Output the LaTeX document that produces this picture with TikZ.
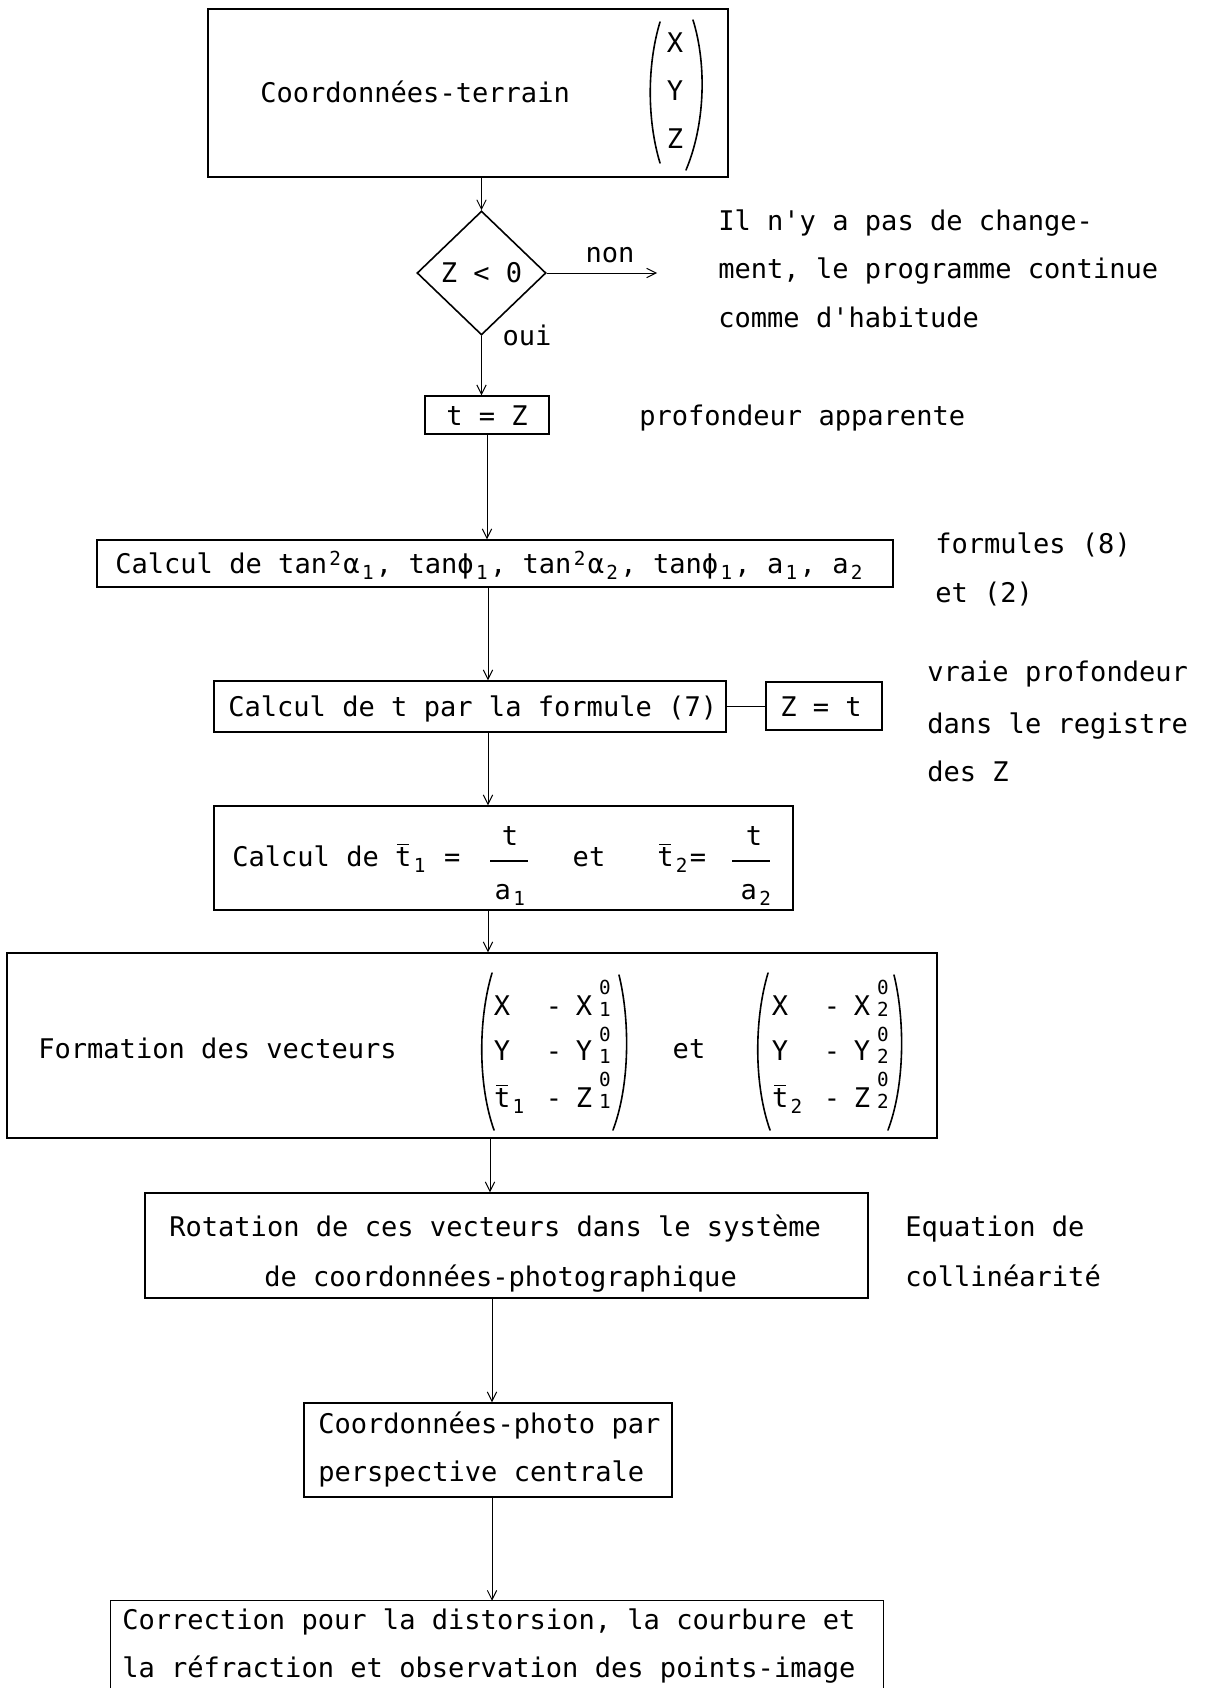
\documentclass[tikz,border=0pt]{standalone}
\usepackage{fontspec}
\newfontfamily\tw{DejaVu Sans Mono}
\usetikzlibrary{arrows.meta,shapes.geometric,fit}
% typewriter sizes: one character cell is 12.22pt wide
\newcommand\bigtw{\tw\fontsize{20.3pt}{36.4pt}\selectfont}
\newcommand\smalltw{\tw\fontsize{14.5pt}{15pt}\selectfont}
\newcommand\lowtxt[1]{\makebox[12.22pt]{\raisebox{-4.5pt}{\smalltw #1}}}
\newcommand\hightxt[1]{\makebox[12.22pt]{\raisebox{6pt}{\smalltw #1}}}
\newcommand\tbar{\rlap{\hspace{1.6pt}\rule[15.5pt]{9pt}{0.9pt}}t}
\begin{document}
\begin{tikzpicture}[x=0.75pt,y=-0.75pt,
  box/.style={draw, line width=1.1pt, inner sep=0pt},
  txt/.style={anchor=base west, inner sep=0pt, font=\bigtw},
  ctxt/.style={anchor=base, inner sep=0pt, font=\bigtw},
  mtxt/.style={anchor=center, inner sep=0pt, font=\smalltw},
  flow/.style={line width=0.7pt, -{Straight Barb[length=7pt,width=7pt]}},
  paren/.style={line width=1.2pt, line cap=round},
  fracbar/.style={line width=0.9pt}
]
\useasboundingbox (0,0) rectangle (1205,1688);
\fill[white] (0,0) rectangle (1205,1688);

% ---- field coordinates
\node[box, line width=1.3pt, fit={(208,9) (728,177)}] (terrain) {};
\node[txt] (terrainlbl) at (260,102) {Coordonnées-terrain};
\node[ctxt] (vx) at (675,52) {X};
\node[ctxt] (vy) at (675,100) {Y};
\node[ctxt] (vz) at (675,148) {Z};
\draw[paren] (660,22) .. controls (647,65) and (647,120) .. (660,163);
\draw[paren] (693,20) .. controls (707,65) and (705,125) .. (686,170);

% ---- test on Z
\node[draw, shape=diamond, line width=1.2pt, minimum width=96.75pt,
      minimum height=93pt, inner sep=0pt, font=\bigtw] (test) at (481.5,273) {Z < 0};
\draw[flow] (terrain.south -| test.north) -- (test.north);
\coordinate (nonend) at (657,273);
\draw[flow] (test.east) -- (nonend);
\node[ctxt] (nonlbl) at (610,262) {non};
\node[ctxt] (ouilbl) at (527,345) {oui};
\node[txt] (n1) at (718,230) {Il n\textquotesingle y a pas de change-};
\node[txt] (n2) at (718,278) {ment, le programme continue};
\node[txt] (n3) at (718,327) {comme d\textquotesingle habitude};

% ---- apparent depth
\node[box, fit={(425,396) (549,434)}] (tz) {};
\node[ctxt] (tzlbl) at (487,425) {t = Z};
\node[txt] (appar) at (639,425) {profondeur apparente};
\draw[flow] (test.south) -- (test.south |- tz.north);

% ---- angles
\node[box, fit={(97,540) (893,587)}] (tanbox) {};
\node[txt] (tanlbl) at (115,573) {Calcul de tan\hightxt{2}α\lowtxt{1}, tanϕ\lowtxt{1}, tan\hightxt{2}α\lowtxt{2}, tanϕ\lowtxt{1}, a\lowtxt{1}, a\lowtxt{2}};
\node[txt] (f1) at (935,553) {formules (8)};
\node[txt] (f2) at (935,602) {et (2)};
\draw[flow] (tz.south) -- (tz.south |- tanbox.north);

% ---- true depth
\coordinate (ax) at (488,0);
\node[box, fit={(214,681) (726,732)}] (ctbox) {};
\node[txt] (ctlbl) at (228,716) {Calcul de t par la formule (7)};
\node[box, fit={(766,682) (882,730)}] (ztbox) {};
\node[ctxt] (ztlbl) at (821,716) {Z = t};
\draw[line width=0.7pt] (ctbox.east) -- (ztbox.west |- ctbox.east);
\node[txt] (v1) at (927,681) {vraie profondeur};
\node[txt] (v2) at (927,733) {dans le registre};
\node[txt] (v3) at (927,781) {des Z};
\draw[flow] (tanbox.south -| ax) -- (ctbox.north -| ax);

% ---- reduced depths
\node[box, fit={(214,806) (793,910)}] (tbbox) {};
\node[txt] (tbl1) at (232,866) {Calcul de \tbar\lowtxt{1} =};
\node[ctxt] (fr1n) at (510,845) {t};
\draw[fracbar] (490,861) -- (528,861);
\node[ctxt] (fr1d) at (511,899) {a\lowtxt{1}};
\node[ctxt] (et1) at (589,866) {et};
\node[txt] (tbl2) at (657,866) {\tbar\lowtxt{2}=};
\node[ctxt] (fr2n) at (754,845) {t};
\draw[fracbar] (732,861) -- (770,861);
\node[ctxt] (fr2d) at (757,899) {a\lowtxt{2}};
\draw[flow] (ctbox.south -| ax) -- (tbbox.north -| ax);

% ---- vectors
\coordinate (bx) at (490,0);
\node[box, fit={(7,953) (937,1138)}] (fmbox) {};
\node[txt] (fml) at (38,1058) {Formation des vecteurs};
% first vector
\node[ctxt] (m1a) at (502,1015) {X};
\node[ctxt] (m1b) at (554,1015) {-};
\node[ctxt] (m1c) at (584,1015) {X};
\node[mtxt] (m1d) at (605,987) {0};
\node[mtxt] (m1e) at (605,1009) {1};
\node[ctxt] (m1f) at (502,1060) {Y};
\node[ctxt] (m1g) at (554,1060) {-};
\node[ctxt] (m1h) at (584,1060) {Y};
\node[mtxt] (m1i) at (605,1034) {0};
\node[mtxt] (m1j) at (605,1056) {1};
\node[txt] (m1k) at (493.85,1107) {\tbar\lowtxt{1}};
\node[ctxt] (m1l) at (554,1107) {-};
\node[ctxt] (m1m) at (584,1107) {Z};
\node[mtxt] (m1n) at (605,1079) {0};
\node[mtxt] (m1o) at (605,1101) {1};
\draw[paren] (492,973) .. controls (478,1020) and (478,1085) .. (494,1130);
\draw[paren] (619,975) .. controls (630,1020) and (630,1085) .. (613,1130);
\node[ctxt] (et2) at (689,1058) {et};
% second vector
\node[ctxt] (m2a) at (780,1015) {X};
\node[ctxt] (m2b) at (832,1015) {-};
\node[ctxt] (m2c) at (862,1015) {X};
\node[mtxt] (m2d) at (883,987) {0};
\node[mtxt] (m2e) at (883,1009) {2};
\node[ctxt] (m2f) at (780,1060) {Y};
\node[ctxt] (m2g) at (832,1060) {-};
\node[ctxt] (m2h) at (862,1060) {Y};
\node[mtxt] (m2i) at (883,1034) {0};
\node[mtxt] (m2j) at (883,1056) {2};
\node[txt] (m2k) at (771.85,1107) {\tbar\lowtxt{2}};
\node[ctxt] (m2l) at (832,1107) {-};
\node[ctxt] (m2m) at (862,1107) {Z};
\node[mtxt] (m2n) at (883,1079) {0};
\node[mtxt] (m2o) at (883,1101) {2};
\draw[paren] (768,973) .. controls (754,1020) and (754,1085) .. (770,1130);
\draw[paren] (894,975) .. controls (905,1020) and (905,1085) .. (888,1130);
\draw[flow] (tbbox.south -| ax) -- (fmbox.north -| ax);

% ---- rotation
\node[box, fit={(145,1193) (868,1298)}] (rotbox) {};
\node[txt] (r1) at (169,1236) {Rotation de ces vecteurs dans le système};
\node[txt] (r2) at (264,1286) {de coordonnées-photographique};
\node[txt] (eq1) at (905,1236) {Equation de};
\node[txt] (eq2) at (905,1286) {collinéarité};
\draw[flow] (fmbox.south -| bx) -- (rotbox.north -| bx);

% ---- central perspective
\coordinate (cx) at (492,0);
\node[box, fit={(304,1403) (672,1497)}] (phbox) {};
\node[txt] (p1) at (318,1433) {Coordonnées-photo par};
\node[txt] (p2) at (318,1481) {perspective centrale};
\draw[flow] (rotbox.south -| cx) -- (phbox.north -| cx);

% ---- corrections (box runs off the bottom edge)
\node[inner sep=0pt, fit={(111,1601) (883,1688)}] (crbox) {};
\draw[line width=1.1pt] (crbox.south west) -- (crbox.north west) -- (crbox.north east) -- (crbox.south east);
\node[txt] (c1) at (122,1629) {Correction pour la distorsion, la courbure et};
\node[txt] (c2) at (122,1677) {la réfraction et observation des points-image};
\draw[flow] (phbox.south -| cx) -- (crbox.north -| cx);
\end{tikzpicture}
\end{document}
